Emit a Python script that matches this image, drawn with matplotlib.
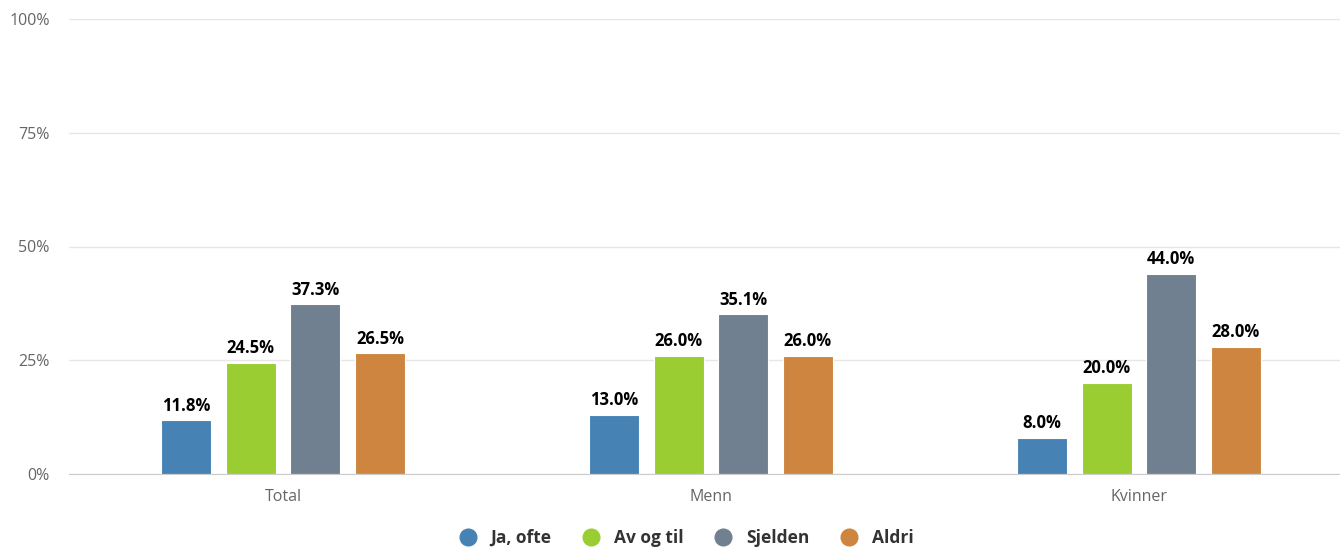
import matplotlib
matplotlib.use('Agg')
import matplotlib.pyplot as plt
from matplotlib.lines import Line2D
import numpy as np

# 数据
categories = ['Total', 'Menn', 'Kvinner']
series_names = ['Ja, ofte', 'Av og til', 'Sjelden', 'Aldri']
ja_ofte = [11.8, 13.0, 8.0]
av_og_til = [24.5, 26.0, 20.0]
sjelden = [37.3, 35.1, 44.0]
aldri = [26.5, 26.0, 28.0]
y_ticks = [0, 25, 50, 75, 100]
y_tick_labels = ['0%', '25%', '50%', '75%', '100%']

colors = ['#4682b4', '#9acd32', '#708090', '#cd853f']
series = [ja_ofte, av_og_til, sjelden, aldri]

plt.rcParams['font.family'] = ['Open Sans', 'DejaVu Sans']

fig = plt.figure(figsize=(13.4, 5.48), dpi=100)
# 绘图区域 (像素换算)
ax = fig.add_axes([69 / 1340, 74 / 548, 1284 / 1340, 455 / 548])

x = np.arange(len(categories))
bar_w = 0.117
step = 0.151
offsets = (np.arange(4) - 1.5) * step

for i, (vals, col) in enumerate(zip(series, colors)):
    bars = ax.bar(x + offsets[i], vals, width=bar_w, color=col,
                  edgecolor='white', linewidth=0.8, zorder=3)
    for b, v in zip(bars, vals):
        ax.annotate(f'{v:.1f}%', (b.get_x() + b.get_width() / 2, v),
                    xytext=(0, 4), textcoords='offset points',
                    ha='center', va='bottom', fontsize=12,
                    fontweight='bold', color='#000000', zorder=4)

ax.set_xlim(-0.5, 2.5)
ax.set_ylim(0, 100)
ax.set_yticks(y_ticks)
ax.set_yticklabels(y_tick_labels)
ax.set_xticks(x)
ax.set_xticklabels(categories)
ax.grid(axis='y', color='#e6e6e6', linewidth=1, zorder=0)
ax.set_axisbelow(True)
for s in ['top', 'right', 'left']:
    ax.spines[s].set_visible(False)
ax.spines['bottom'].set_color('#cccccc')
ax.spines['bottom'].set_zorder(5)
ax.tick_params(axis='y', length=0, pad=14, labelsize=11.5, labelcolor='#666666')
ax.tick_params(axis='x', length=0, pad=11, labelsize=11.5, labelcolor='#666666')

handles = [Line2D([0], [0], marker='o', linestyle='', markersize=12,
                  markerfacecolor=c, markeredgecolor=c) for c in colors]
fig.legend(handles, series_names, loc='center', bbox_to_anchor=(682 / 1340, 1 - 538 / 548),
           ncol=4, frameon=False, handletextpad=0.3, columnspacing=1.3,
           prop={'weight': 'bold', 'size': 12.5})
for t in fig.legends[0].get_texts():
    t.set_color('#333333')

plt.savefig('out.png', dpi=100)
